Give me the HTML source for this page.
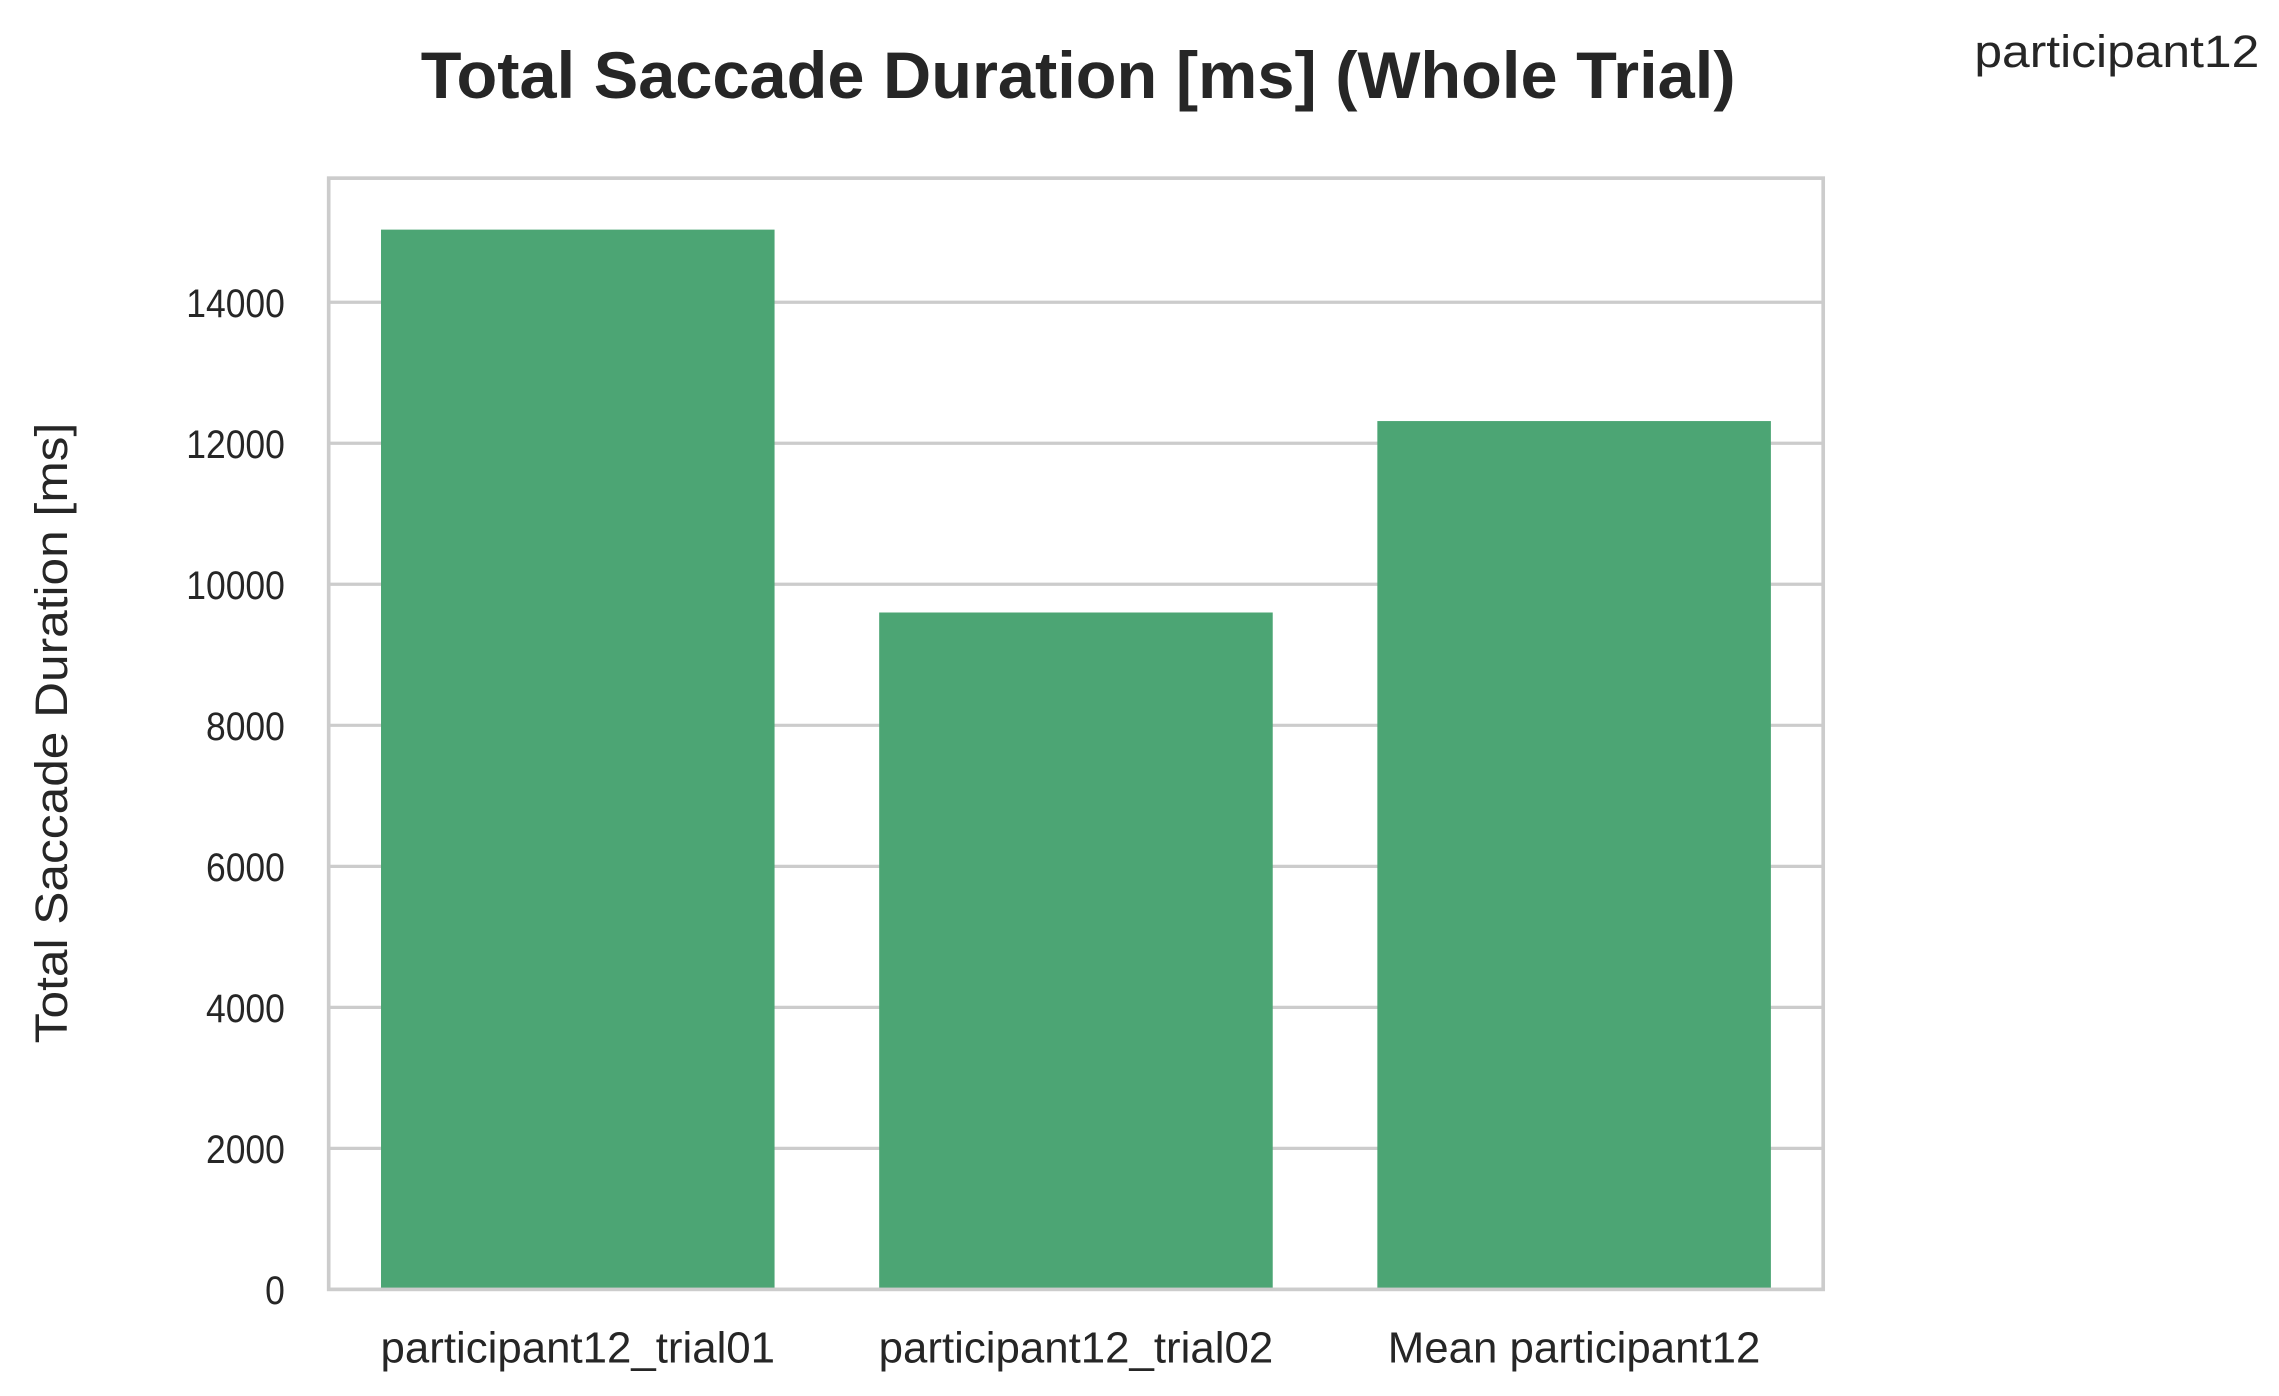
<!DOCTYPE html>
<html><head><meta charset="utf-8"><style>html,body{margin:0;padding:0;background:#fff}svg{display:block}</style></head>
<body>
<svg id="chart" width="2279" height="1396" viewBox="0 0 1560 956" preserveAspectRatio="none" xmlns="http://www.w3.org/2000/svg" font-family="'Liberation Sans', sans-serif" fill="#262626">
<text x="738" y="67" text-anchor="middle" font-size="45" font-weight="bold" textLength="900" lengthAdjust="spacingAndGlyphs">Total Saccade Duration [ms] (Whole Trial)</text>
<text x="1449" y="46" text-anchor="middle" font-size="31" textLength="195" lengthAdjust="spacingAndGlyphs">participant12</text>
<text transform="translate(46,502) rotate(-90)" text-anchor="middle" font-size="31" textLength="425" lengthAdjust="spacingAndGlyphs">Total Saccade Duration [ms]</text>
<g id="grid"></g><g id="bars"></g><g id="ticks"></g>
<rect x="225" y="122" width="1023" height="761" fill="none" stroke="#cccccc" stroke-width="2.5"/>
</svg>
<script>
const categories = ["participant12_trial01", "participant12_trial02", "Mean participant12"];
const values = [15030, 9600, 12315];
const yTicks = [0, 2000, 4000, 6000, 8000, 10000, 12000, 14000];
const yMax = 15760;
const L=225,R=1248,T=122,B=883;
const NS="http://www.w3.org/2000/svg";
const y=v=>B-(v/yMax)*(B-T);
const bw=(R-L)/categories.length;
const x=i=>L+bw*(i+0.5);
function mk(t,a,p){const e=document.createElementNS(NS,t);for(const k in a)e.setAttribute(k,a[k]);p.appendChild(e);return e;}
const g=document.getElementById('grid'),b=document.getElementById('bars'),tk=document.getElementById('ticks');
yTicks.forEach(v=>{
 const l=mk('line',{x1:L,x2:R,y1:y(v),y2:y(v),stroke:'#cccccc','stroke-width':2.2},g);
 
 
 const s=String(v);
 const t=mk('text',{x:L-30,y:y(v)+10,'text-anchor':'end','font-size':27,textLength:13.5*s.length,lengthAdjust:'spacingAndGlyphs'},tk);
 t.textContent=s;
 
 
});
categories.forEach((c,i)=>{
 const w=bw*0.79;
 const r=mk('rect',{x:x(i)-w/2,y:y(values[i]),width:w,height:B-y(values[i]),fill:'#4ca574'},b);
 
 
 const t=mk('text',{x:x(i),y:B+50,'text-anchor':'middle','font-size':30},tk);
 t.textContent=c;
 
 
});
</script>
</body></html>
